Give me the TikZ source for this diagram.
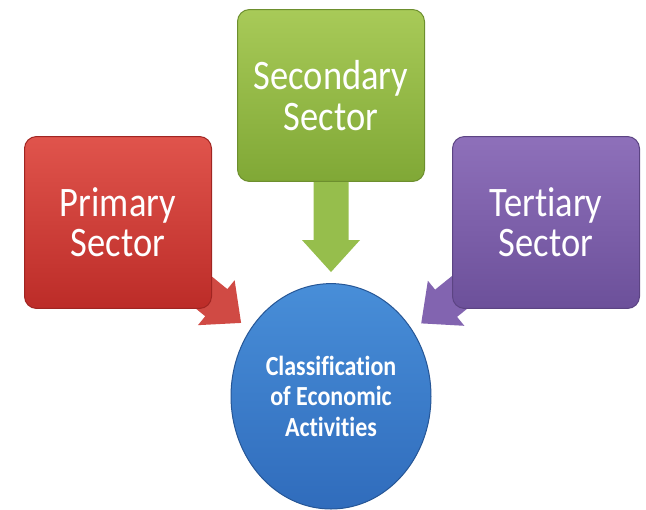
\documentclass[tikz,border=0pt]{standalone}
\usepackage{fontspec}
\setmainfont{Carlito}[Ligatures=CommonOff]
\usetikzlibrary{positioning}
\usetikzlibrary{shapes.geometric}
\usetikzlibrary{calc,backgrounds}
\definecolor{redTop}{RGB}{224,84,76}
\definecolor{redBot}{RGB}{188,44,40}
\definecolor{redArr}{RGB}{208,74,68}
\definecolor{grnTop}{RGB}{168,202,88}
\definecolor{grnBot}{RGB}{128,168,54}
\definecolor{grnArr}{RGB}{150,190,76}
\definecolor{purTop}{RGB}{142,112,186}
\definecolor{purBot}{RGB}{108,80,154}
\definecolor{purArr}{RGB}{130,100,176}
\definecolor{bluTop}{RGB}{72,142,216}
\definecolor{bluBot}{RGB}{48,108,188}
\tikzstyle{sector} = [rectangle, rounded corners=12pt, minimum width=187pt, minimum height=149.5pt, inner sep=0pt, align=center, text=white, font=\fontsize{36.5}{35}\selectfont, line width=1pt, yscale=1.15, transform shape]
\tikzstyle{hub} = [ellipse, minimum width=200pt, minimum height=196pt, inner sep=0pt, align=center, text=white, font=\bfseries\fontsize{24}{26.5}\selectfont, line width=1pt, yscale=1.15, transform shape]
% block arrow from a sector box towards the hub
\newcommand{\flow}[3]{%
  \path (#1.center) -- (#2) coordinate[pos=1] (rim);
  \coordinate (tip) at ($(rim)!11pt!(#1.center)$);
  \coordinate (base) at ($(tip)!32pt!(#1.center)$);
  \fill[#3] ($(#1.center)!17.5pt!90:(tip)$) -- ($(base)!17.5pt!90:(tip)$)
    -- ($(base)!29pt!90:(tip)$) -- (tip) -- ($(base)!29pt!-90:(tip)$)
    -- ($(base)!17.5pt!-90:(tip)$) -- ($(#1.center)!17.5pt!-90:(tip)$) -- cycle;
}

\begin{document}
\begin{tikzpicture}[x=1pt, y=1pt]
\useasboundingbox (0,0) rectangle (646,-510);

% Define nodes
\node[sector, top color=grnTop, bottom color=grnBot, draw=grnBot!85!black] at (331,-95.5) (sec) {Secondary\\Sector};
\node[sector, top color=redTop, bottom color=redBot, draw=redBot!85!black, below left = 127pt and 25pt of sec.north west]  (prim) {Primary\\Sector};
\node[sector, top color=purTop, bottom color=purBot, draw=purBot!85!black, below right = 127pt and 27pt of sec.north east] (ter) {Tertiary\\Sector};
\node[hub, top color=bluTop, bottom color=bluBot, draw=bluBot!80!black, below = 101pt of sec] (act) {Classification\\of Economic\\Activities};

% Arrows
\begin{scope}[on background layer]
\flow{prim}{act}{redArr}
\flow{sec}{act}{grnArr}
\flow{ter}{act}{purArr}
\end{scope}
\end{tikzpicture}
\end{document}
